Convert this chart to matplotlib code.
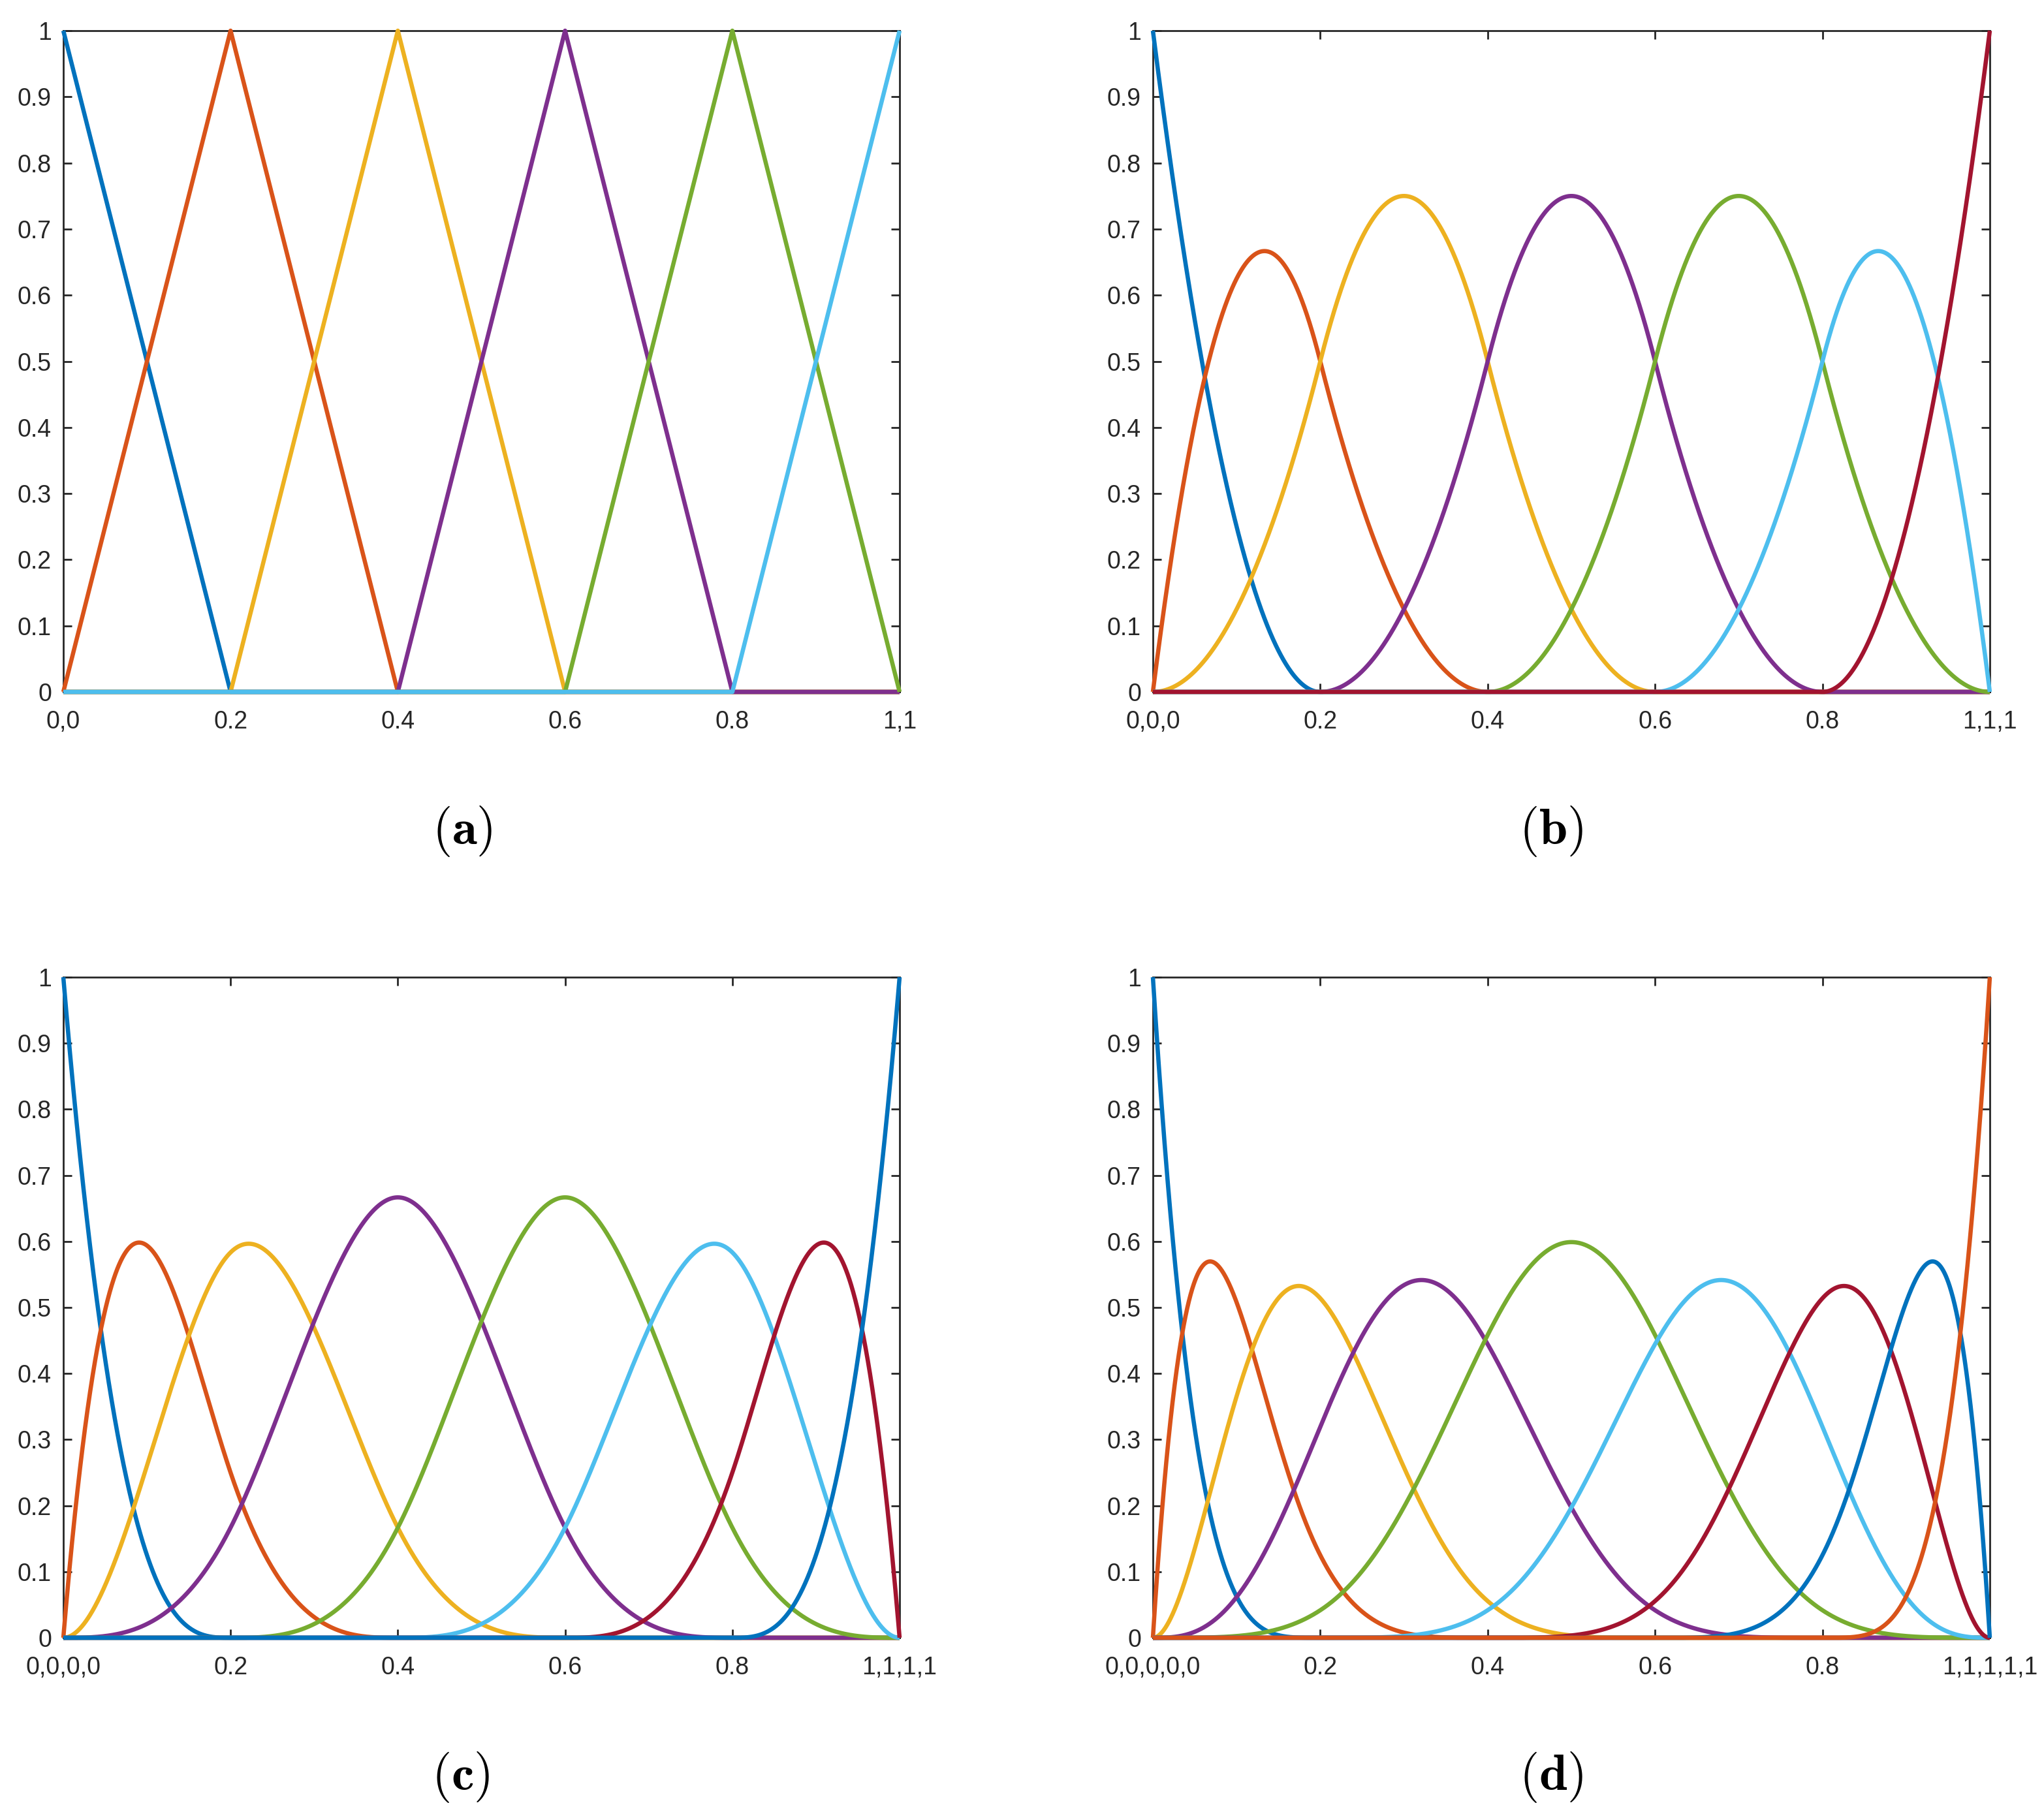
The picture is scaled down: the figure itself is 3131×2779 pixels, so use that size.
import numpy as np
import matplotlib
matplotlib.use("Agg")
import matplotlib.pyplot as plt

plt.rcParams['mathtext.fontset'] = 'cm'

# knot vectors of the four B-spline bases (degree 1..4)
knots_a = [0, 0, 0.2, 0.4, 0.6, 0.8, 1, 1]
knots_b = [0, 0, 0, 0.2, 0.4, 0.6, 0.8, 1, 1, 1]
knots_c = [0, 0, 0, 0, 0.2, 0.4, 0.6, 0.8, 1, 1, 1, 1]
knots_d = [0, 0, 0, 0, 0, 0.2, 0.4, 0.6, 0.8, 1, 1, 1, 1, 1]
degrees = [1, 2, 3, 4]

x_ticks = [0, 0.2, 0.4, 0.6, 0.8, 1]
xlab_a = ['0,0', '0.2', '0.4', '0.6', '0.8', '1,1']
xlab_b = ['0,0,0', '0.2', '0.4', '0.6', '0.8', '1,1,1']
xlab_c = ['0,0,0,0', '0.2', '0.4', '0.6', '0.8', '1,1,1,1']
xlab_d = ['0,0,0,0,0', '0.2', '0.4', '0.6', '0.8', '1,1,1,1,1']
y_ticks = [0, 0.1, 0.2, 0.3, 0.4, 0.5, 0.6, 0.7, 0.8, 0.9, 1]
y_labels = ['0', '0.1', '0.2', '0.3', '0.4', '0.5', '0.6', '0.7', '0.8', '0.9', '1']
panel_names = ['(a)', '(b)', '(c)', '(d)']

colors = ['#0072BD', '#D95319', '#EDB120', '#7E2F8E', '#77AC30', '#4DBEEE', '#A2142F']


def bspline_basis(knots, deg, x):
    t = np.asarray(knots, float)
    n = len(t) - 1
    N = np.zeros((n, len(x)))
    for i in range(n):
        if t[i] < t[i + 1]:
            N[i] = ((x >= t[i]) & (x < t[i + 1])).astype(float)
    last = max(i for i in range(n) if t[i] < t[i + 1])
    N[last, x == t[-1]] = 1.0
    for k in range(1, deg + 1):
        for i in range(n - k):
            left = 0.0
            right = 0.0
            if t[i + k] > t[i]:
                left = (x - t[i]) / (t[i + k] - t[i]) * N[i]
            if t[i + k + 1] > t[i + 1]:
                right = (t[i + k + 1] - x) / (t[i + k + 1] - t[i + 1]) * N[i + 1]
            N[i] = left + right
    return N[:len(t) - deg - 1]


W, H = 3131, 2779
fig = plt.figure(figsize=(W / 100, H / 100), dpi=100)

# axes boxes in pixels: left, top, right, bottom
boxes = [(97, 47, 1378, 1060), (1766, 47, 3048, 1060),
         (97, 1497, 1378, 2509), (1766, 1497, 3048, 2509)]
label_pos = [(708, 1274), (2376, 1274), (706, 2723), (2376, 2723)]

all_knots = [knots_a, knots_b, knots_c, knots_d]
all_xlab = [xlab_a, xlab_b, xlab_c, xlab_d]
xs = np.linspace(0, 1, 2001)

for p in range(4):
    l, t, r, b = boxes[p]
    ax = fig.add_axes([l / W, 1 - b / H, (r - l) / W, (b - t) / H])
    N = bspline_basis(all_knots[p], degrees[p], xs)
    for i in range(N.shape[0]):
        ax.plot(xs, N[i], color=colors[i % len(colors)], lw=4.7,
                clip_on=False, zorder=3, solid_capstyle='butt')
    ax.set_xlim(0, 1)
    ax.set_ylim(0, 1)
    ax.set_xticks(x_ticks)
    ax.set_xticklabels(all_xlab[p])
    ax.set_yticks(y_ticks)
    ax.set_yticklabels(y_labels)
    for s in ax.spines.values():
        s.set_linewidth(2.0)
        s.set_color('#262626')
    ax.tick_params(axis='both', direction='in', length=9.5, width=2.0,
                   color='#262626', labelcolor='#262626', labelsize=27,
                   top=True, right=True)
    ax.tick_params(axis='y', pad=13)
    ax.tick_params(axis='x', pad=20)
    for lab in ax.get_xticklabels() + ax.get_yticklabels():
        lab.set_fontfamily('Liberation Sans')
    lx, ly = label_pos[p]
    fig.text(lx / W, 1 - ly / H, r'$\mathbf{' + panel_names[p] + '}$',
             fontsize=56, ha='center', va='center')

fig.savefig('out.png', dpi=100)
